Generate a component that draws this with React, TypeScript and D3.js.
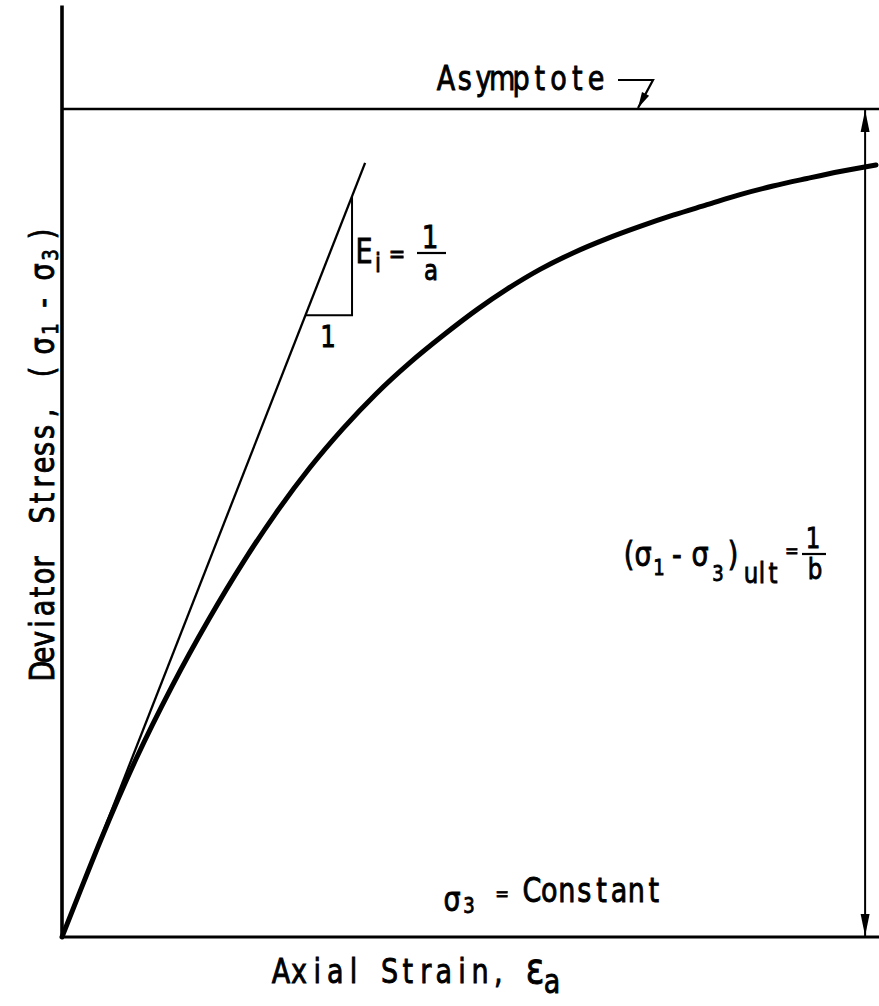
import React from 'react';
import * as d3 from 'd3';

const WIDTH = 879;
const HEIGHT = 1006;

// Normalized axial strain (fraction of the plotted range) and deviator stress
// (fraction of the ultimate value) along the hyperbolic stress–strain curve.
const axialStrain = [0, 0.022, 0.0477, 0.0906, 0.1346, 0.1799, 0.2215, 0.2619, 0.3035, 0.3439, 0.3843, 0.4259, 0.4663, 0.5092, 0.5447, 0.5851, 0.6255, 0.6671, 0.7075, 0.7479, 0.7895, 0.8299, 0.8703, 0.9119, 0.9523, 0.9963];
const deviatorStress = [0, 0.0548, 0.1178, 0.215, 0.3028, 0.3841, 0.4522, 0.512, 0.567, 0.614, 0.6559, 0.6937, 0.7264, 0.7586, 0.7824, 0.8063, 0.8262, 0.8435, 0.8582, 0.8717, 0.8844, 0.8967, 0.907, 0.9161, 0.9245, 0.9324];

// Initial tangent, slope Ei = 1/a, drawn up to this strain
const initialTangentModulus = 2.52;
const tangentEndStrain = 0.371;
// Strains bounding the unit-slope triangle on the tangent
const slopeTriangleStrains = [0.298, 0.355];
// Ultimate deviator stress (σ1 − σ3)ult = 1/b and the strain where it is dimensioned
const ultimateStress = 1;
const dimensionStrain = 0.983;
// Extent of the axes
const stressAxisTop = 1.125;
const strainAxisEnd = 1;

const FONT = '"DejaVu Sans", sans-serif';
const SX = 0.82;

// Stencil-style lettering: each glyph centred on its own cell
function Lettering({ chars, centers, y, size = 33, sx = SX }: { chars: string; centers: number[]; y: number; size?: number; sx?: number }) {
  const xs = centers.map((c) => (c / sx).toFixed(2)).join(' ');
  return (
    <text
      transform={`scale(${sx},1)`}
      x={xs}
      y={y}
      fontSize={size}
      textAnchor="middle"
      fontFamily={FONT}
      fill="#000"
      stroke="#000"
      strokeWidth={0.9}
    >
      {chars}
    </text>
  );
}

const row = (n: number, start: number, pitch: number) => d3.range(n).map((i) => start + i * pitch);

function arrowHead(tipX: number, tipY: number, dx: number, dy: number, len: number, half: number) {
  // dx,dy: unit vector pointing from the tip back along the shaft
  const bx = tipX + dx * len;
  const by = tipY + dy * len;
  const px = -dy * half;
  const py = dx * half;
  return `M${tipX},${tipY}L${bx + px},${by + py}L${bx - px},${by - py}Z`;
}

export default function App() {
  const x = d3.scaleLinear().domain([0, 1]).range([62, 879]);
  const y = d3.scaleLinear().domain([0, 1]).range([937, 109]);

  const pts: [number, number][] = axialStrain.map((e, i) => [e, deviatorStress[i]]);
  const curve = d3
    .line<[number, number]>()
    .x((d) => x(d[0]))
    .y((d) => y(d[1]))
    .curve(d3.curveMonotoneX)(pts) as string;

  const tangent = d3
    .line<[number, number]>()
    .x((d) => x(d[0]))
    .y((d) => y(d[1]))([
    [0, 0],
    [tangentEndStrain, initialTangentModulus * tangentEndStrain],
  ]) as string;

  const [t0, t1] = slopeTriangleStrains;
  const triBaseY = y(initialTangentModulus * t0);
  const triTopY = y(initialTangentModulus * t1);
  const triangle = `M${x(t0)},${triBaseY}H${x(t1)}V${triTopY}`;

  const dimX = x(dimensionStrain);
  const asymY = y(ultimateStress);
  const baseY = y(0);

  // leader from the "Asymptote" note down to the line
  const leaderTip = { x: 638, y: asymY - 1 };
  const leaderStart = { x: 653, y: 80 };
  const ll = Math.hypot(leaderStart.x - leaderTip.x, leaderStart.y - leaderTip.y);
  const ldx = (leaderStart.x - leaderTip.x) / ll;
  const ldy = (leaderStart.y - leaderTip.y) / ll;

  return (
    <svg width={WIDTH} height={HEIGHT} style={{ position: 'absolute', left: 0, top: 0, background: '#fff' }}>
      <rect width={WIDTH} height={HEIGHT} fill="#fff" />

      {/* axes */}
      <path d={`M${x(0)},${y(stressAxisTop)}V${baseY}`} stroke="#000" strokeWidth={3.6} fill="none" />
      <path d={`M${x(0)},${baseY}H${x(strainAxisEnd)}`} stroke="#000" strokeWidth={3} fill="none" />

      {/* asymptote */}
      <path d={`M${x(0)},${asymY}H${x(strainAxisEnd)}`} stroke="#000" strokeWidth={2.4} fill="none" />

      {/* initial tangent and slope triangle */}
      <path d={tangent} stroke="#000" strokeWidth={2.3} fill="none" />
      <path d={triangle} stroke="#000" strokeWidth={2} fill="none" />

      {/* stress–strain curve */}
      <path d={curve} stroke="#000" strokeWidth={5} fill="none" strokeLinecap="round" />

      {/* ultimate stress dimension */}
      <path d={`M${dimX},${asymY}V${baseY}`} stroke="#000" strokeWidth={2} fill="none" />
      <path d={arrowHead(dimX, asymY + 1, 0, 1, 22, 4.5)} fill="#000" />
      <path d={arrowHead(dimX, baseY - 1, 0, -1, 22, 4.5)} fill="#000" />

      {/* Asymptote note */}
      <Lettering chars="Asymptote" centers={row(9, 446, 18.75)} y={90} />
      <path d={`M618,${leaderStart.y}H${leaderStart.x}L${leaderTip.x},${leaderTip.y}`} stroke="#000" strokeWidth={2.2} fill="none" />
      <path d={arrowHead(leaderTip.x, leaderTip.y, ldx, ldy, 16, 4)} fill="#000" />

      {/* Ei = 1/a */}
      <Lettering chars="E" centers={[364]} y={263} />
      <Lettering chars="i" centers={[378]} y={272} size={26} />
      <Lettering chars="=" centers={[397]} y={262} size={24} />
      <Lettering chars="1" centers={[430]} y={248} size={32} />
      <path d="M417,253H446" stroke="#000" strokeWidth={2.2} />
      <Lettering chars="a" centers={[431]} y={280} size={28} />

      {/* unit run under the triangle */}
      <Lettering chars="1" centers={[328]} y={347} size={30} />

      {/* (σ1 − σ3)ult = 1/b */}
      <Lettering chars="(σ" centers={[629, 643]} y={566} />
      <Lettering chars="1" centers={[659]} y={575} size={22} />
      <Lettering chars="-σ" centers={[677, 700]} y={566} />
      <Lettering chars="3" centers={[718]} y={581} size={22} />
      <Lettering chars=")" centers={[733]} y={566} />
      <Lettering chars="ult" centers={[751, 762, 773]} y={583} size={28} />
      <Lettering chars="=" centers={[792]} y={557} size={20} />
      <Lettering chars="1" centers={[813]} y={548} size={28} />
      <path d="M802,554H826" stroke="#000" strokeWidth={2.2} />
      <Lettering chars="b" centers={[815]} y={579} size={28} />

      {/* σ3 = Constant */}
      <Lettering chars="σ" centers={[452]} y={911} />
      <Lettering chars="3" centers={[469]} y={913} size={22} />
      <Lettering chars="=" centers={[502]} y={900} size={20} />
      <Lettering chars="Constant" centers={row(8, 532, 17.4)} y={902} />

      {/* x-axis title */}
      <Lettering chars="Axial Strain," centers={row(13, 281, 18.1)} y={983} />
      <Lettering chars="ε" centers={[535]} y={983} size={42} />
      <Lettering chars="a" centers={[552]} y={993} size={33} />

      {/* y-axis title */}
      <g transform="rotate(-90)">
        <Lettering chars="Deviator" centers={[671, 655, 639, 624, 608, 592, 576, 562].map((v) => -v)} y={54} />
        <Lettering chars="Stress," centers={[515, 498, 482, 465, 449, 432, 413].map((v) => -v)} y={54} />
        <Lettering chars="(σ" centers={[372, 346].map((v) => -v)} y={54} />
        <Lettering chars="1" centers={[-329]} y={58} size={22} />
        <Lettering chars="-σ" centers={[303, 272].map((v) => -v)} y={54} />
        <Lettering chars="3" centers={[-255]} y={58} size={22} />
        <Lettering chars=")" centers={[-234]} y={54} />
      </g>
    </svg>
  );
}
